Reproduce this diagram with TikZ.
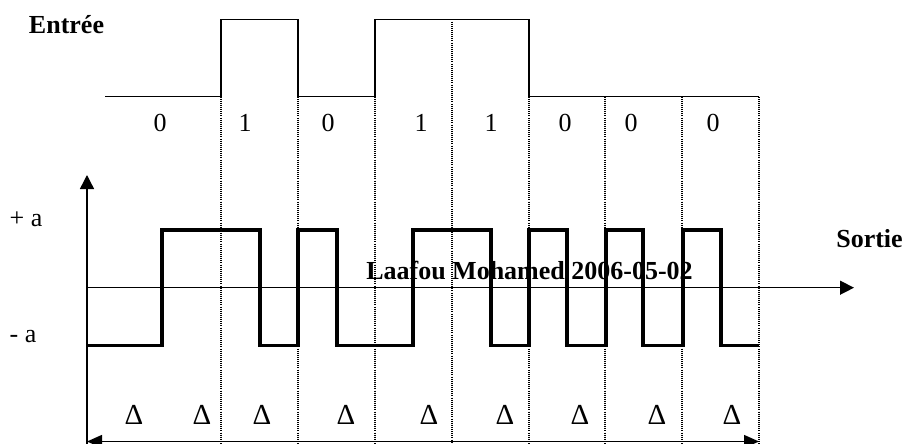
\documentclass[tikz,border=0pt]{standalone}
\usepackage{fontspec}
\setmainfont{Liberation Serif}
\usetikzlibrary{arrows.meta}
\begin{document}
\begin{tikzpicture}[x=1pt,y=-1pt,
  txt/.style={font=\fontsize{26}{30}\selectfont, inner sep=0pt, anchor=base},
  dtxt/.style={font=\fontsize{29}{32}\selectfont, inner sep=0pt, anchor=base},
  btxt/.style={font=\fontsize{26}{30}\selectfont\bfseries, inner sep=0pt, anchor=base},
  insig/.style={line width=1.5pt, line join=miter},
  outsig/.style={line width=3.3pt, line join=miter},
  axisline/.style={line width=1.4pt, -{Triangle[length=14pt,width=14pt]}},
  dblarrow/.style={line width=1.4pt, {Triangle[length=15pt,width=13pt]}-{Triangle[length=15pt,width=13pt]}},
  gridline/.style={line width=1.1pt, dash pattern=on 1pt off 1.1pt}]
\useasboundingbox (0,0) rectangle (905,444);
% texts
\node[btxt] (entree) at (66.5,34) {Entrée};
\node[btxt] (sortie) at (869.5,247) {Sortie};
\node[btxt] (author) at (529.5,279) {Laafou Mohamed 2006-05-02};
\node[txt] (pa) at (26,226) {+ a};
\node[txt] (ma) at (23,342) {- a};
\foreach \x/\b [count=\i] in {160/0,245/1,328/0,421/1,491/1,565/0,631/0,713/0}
  \node[txt] (bit\i) at (\x,131) {\b};
\foreach \x [count=\i] in {134,202,262,346,429,505,580,657,732}
  \node[dtxt] (delta\i) at (\x,424) {Δ};
% dotted grid
\foreach \x in {221,298,375,529,605,682,759}
  \draw[gridline] (\x,96.5) -- (\x,444);
\draw[gridline] (452,19.5) -- (452,444);
% input signal
\draw[insig] (105,96.5) -- (221,96.5) -- (221,19.5) -- (298,19.5) -- (298,96.5)
  -- (375,96.5) -- (375,19.5) -- (529,19.5) -- (529,96.5) -- (759,96.5);
% axes
\coordinate (O) at (87,287.7);
\coordinate (ytop) at (87,175);
\coordinate (ybot) at (87,444);
\coordinate (xend) at (854,287.7);
\draw[axisline] (ybot) -- (ytop);
\draw[axisline] (O) -- (xend);
\coordinate (bl) at (87,441.5);
\coordinate (br) at (759,441.5);
\draw[dblarrow] (bl) -- (br);
% output signal
\draw[outsig] (87,345.7) -- (162,345.7) -- (162,230) -- (260,230) -- (260,345.7)
  -- (298,345.7) -- (298,230) -- (337,230) -- (337,345.7)
  -- (413,345.7) -- (413,230) -- (491,230) -- (491,345.7)
  -- (529,345.7) -- (529,230) -- (567,230) -- (567,345.7)
  -- (606,345.7) -- (606,230) -- (643,230) -- (643,345.7)
  -- (683,345.7) -- (683,230) -- (721,230) -- (721,345.7) -- (759,345.7);
\end{tikzpicture}
\end{document}
